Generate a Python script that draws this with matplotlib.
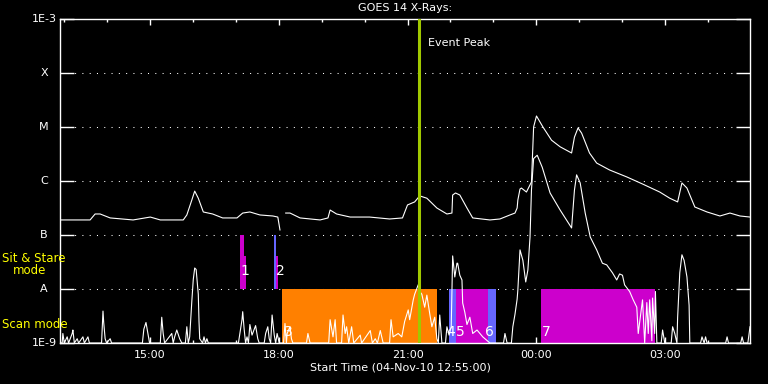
import numpy as np
import matplotlib
matplotlib.use("Agg")
import matplotlib.pyplot as plt
from matplotlib.ticker import FixedLocator, NullLocator


# Time axis: minutes after the start time (04-Nov-10 12:55:00)
start_label = "Start Time (04-Nov-10 12:55:00)"

# GOES long channel (1-8 A), W/m^2 (nan = data gap)
long_t = [0, 42, 49, 56, 70, 102, 126, 140, 172, 177, 184, 188, 193, 200, 213,
          227, 247, 255, 265, 279, 297, 304, 307, 309, 315, 321, 335, 363, 374,
          377, 386, 405, 432, 460, 478, 485, 495, 502, 512, 526, 540, 547, 548,
          552, 558, 568, 576, 600, 614, 628, 635, 638, 639, 642, 644, 651, 658,
          661, 665, 674, 686, 698, 714, 718, 723, 728, 739, 749, 767, 791, 813,
          837, 851, 862, 868, 875, 886, 903, 921, 935, 949, 963]
long_flux = [1.9e-7, 1.9e-7, 2.45e-7, 2.45e-7, 2.07e-7, 1.9e-7, 2.15e-7, 1.9e-7,
             1.9e-7, 2.35e-7, 4.45e-7, 6.5e-7, 4.8e-7, 2.67e-7, 2.45e-7, 2.07e-7,
             2.07e-7, 2.55e-7, 2.67e-7, 2.35e-7, 2.25e-7, 2.15e-7, 1.24e-7, np.nan,
             2.55e-7, 2.55e-7, 2.07e-7, 1.9e-7, 2.07e-7, 2.9e-7, 2.45e-7, 2.15e-7,
             2.15e-7, 1.98e-7, 2.07e-7, 3.6e-7, 4.1e-7, 5.3e-7, 4.8e-7, 3.16e-7,
             2.45e-7, 2.55e-7, 5.5e-7, 6.0e-7, 5.5e-7, 3.16e-7, 2.07e-7, 1.9e-7,
             1.98e-7, 2.35e-7, 2.55e-7, 3.16e-7, 4.45e-7, 7.1e-7, 7.4e-7, 6.25e-7,
             9.6e-7, 1.0e-5, 1.6e-5, 1.0e-5, 5.7e-6, 4.3e-6, 3.3e-6, 6.5e-6, 9.6e-6,
             7.7e-6, 3.3e-6, 2.15e-6, 1.6e-6, 1.19e-6, 8.8e-7, 6.25e-7, 4.8e-7,
             4.1e-7, 9.2e-7, 7.4e-7, 3.3e-7, 2.67e-7, 2.25e-7, 2.55e-7, 2.25e-7,
             2.15e-7]

# GOES short channel (0.5-4 A), W/m^2
short_t = [0, 3, 4, 6, 10, 12, 17, 18, 20, 24, 26, 32, 34, 39, 41, 58, 60, 61, 63,
           65, 70, 72, 115, 117, 120, 123, 125, 140, 142, 144, 146, 156, 158, 160,
           163, 167, 170, 175, 177, 179, 181, 184, 186, 188, 190, 193, 194, 195,
           199, 201, 203, 205, 207, 249, 251, 254, 255, 257, 259, 261, 263, 265,
           268, 271, 273, 276, 278, 285, 287, 290, 292, 294, 296, 299, 301, 303,
           306, 312, 314, 316, 317, 321, 323, 325, 344, 346, 349, 375, 377, 381,
           384, 386, 393, 395, 398, 400, 403, 407, 410, 419, 421, 433, 436, 440,
           443, 447, 451, 460, 462, 465, 472, 477, 481, 486, 488, 493, 495, 500,
           502, 505, 509, 512, 516, 519, 523, 526, 528, 530, 533, 538, 540, 543,
           546, 548, 551, 554, 555, 558, 561, 562, 565, 568, 572, 576, 582, 590,
           600, 619, 621, 624, 630, 632, 635, 638, 639, 642, 646, 650, 653, 656,
           658, 661, 666, 673, 684, 698, 714, 718, 721, 726, 733, 740, 749, 757,
           763, 771, 777, 781, 785, 788, 795, 800, 805, 807, 813, 816, 819, 821,
           823, 826, 827, 830, 831, 833, 839, 841, 844, 853, 855, 858, 861, 862,
           865, 868, 871, 875, 878, 879, 894, 896, 899, 901, 903, 929, 931, 933,
           950, 952, 954, 960, 963]
short_flux = [1e-9, 1e-9, 1.5e-9, 1e-9, 1.3e-9, 1e-9, 1.5e-9, 1.74e-9, 1e-9, 1.2e-9,
              1e-9, 1.3e-9, 1e-9, 1.3e-9, 1e-9, 1e-9, 3.9e-9, 2.4e-9, 1.2e-9, 1e-9,
              1.2e-9, 1e-9, 1e-9, 1.8e-9, 2.4e-9, 1.4e-9, 1e-9, 1e-9, 3.0e-9, 1.5e-9,
              1e-9, 1.5e-9, 1e-9, 1.3e-9, 1.74e-9, 1.2e-9, 1e-9, 1e-9, 2.0e-9, 1e-9,
              1.3e-9, 6e-9, 1.5e-8, 2.45e-8, 2.3e-8, 8e-9, 2.5e-9, 1.2e-9, 1e-9,
              1.3e-9, 1e-9, 1.2e-9, 1e-9, 1e-9, 1.5e-9, 2.7e-9, 3.8e-9, 1.8e-9, 1e-9,
              1.3e-9, 1e-9, 2.2e-9, 1.4e-9, 1.8e-9, 2.1e-9, 1.2e-9, 1e-9, 1e-9,
              1.5e-9, 2.0e-9, 1.2e-9, 1e-9, 3.3e-9, 1.4e-9, 1e-9, 1.5e-9, 1e-9, 1e-9,
              2.3e-9, 1e-9, 1.5e-9, 2.0e-9, 1.2e-9, 1e-9, 1e-9, 1.5e-9, 1e-9, 1e-9,
              2.7e-9, 1.3e-9, 2.7e-9, 1e-9, 1e-9, 3.3e-9, 1.5e-9, 2.0e-9, 1e-9,
              2.0e-9, 1e-9, 1.4e-9, 1e-9, 1.7e-9, 1e-9, 1.2e-9, 1e-9, 1.7e-9, 1e-9,
              1e-9, 2.7e-9, 1.3e-9, 1.5e-9, 1.3e-9, 2.5e-9, 4.1e-9, 2.7e-9, 6.3e-9,
              8.0e-9, 1.2e-8, 9e-9, 8e-9, 4.6e-9, 7.7e-9, 3.5e-9, 2.0e-9, 3.0e-9,
              1.2e-9, 1e-9, 3.3e-9, 1e-9, 1e-9, 2.0e-9, 1.4e-9, 2e-9, 4.1e-8,
              1.67e-8, 3.0e-8, 3.0e-8, 1.8e-8, 1.47e-8, 5.5e-9, 3.7e-9, 2.2e-9,
              3.0e-9, 1.5e-9, 1.74e-9, 1.3e-9, 1e-9, 1e-9, 1.5e-9, 1e-9, 1e-9,
              2.0e-9, 3.4e-9, 6.5e-9, 9.6e-9, 5.3e-8, 3.4e-8, 1.35e-8, 2.25e-8,
              9.2e-8, 6.8e-7, 2.6e-6, 3.0e-6, 1.8e-6, 6e-7, 2.9e-7, 1.35e-7, 6.8e-7,
              1.3e-6, 9.2e-7, 2.55e-7, 9.2e-8, 5.3e-8, 3.0e-8, 2.8e-8, 2.0e-8,
              1.47e-8, 1.9e-8, 1.8e-8, 1.19e-8, 9e-9, 6.3e-9, 4.6e-9, 1.5e-9, 6.3e-9,
              1e-9, 5.6e-9, 1.5e-9, 6.3e-9, 1.1e-9, 6.8e-9, 1.5e-9, 9e-9, 1e-9, 1e-9,
              1.74e-9, 1e-9, 1e-9, 2.0e-9, 1.5e-9, 1e-9, 3e-9, 2.0e-8, 4.3e-8,
              3.4e-8, 1.67e-8, 5e-9, 1e-9, 1e-9, 1.3e-9, 1e-9, 1.3e-9, 1e-9, 1e-9,
              1.3e-9, 1e-9, 1e-9, 1.3e-9, 1e-9, 1e-9, 2.0e-9]

# Observation blocks: (start, end) minutes, flux top/bottom, colour
block_start = [251, 257, 299, 302, 310, 543, 553, 598, 671]
block_end = [257, 260, 302, 304, 526, 553, 598, 608, 831]
block_top = [1e-7, 4.1e-8, 1e-7, 4.1e-8, 1e-8, 1e-8, 1e-8, 1e-8, 1e-8]
block_bottom = [1e-8, 1e-8, 1e-8, 1e-8, 1e-9, 1e-9, 1e-9, 1e-9, 1e-9]
block_color = ["#cc00cc", "#cc00cc", "#6666ff", "#cc00cc", "#ff8000",
               "#6666ff", "#cc00cc", "#6666ff", "#cc00cc"]

# Block number labels
label_text = ["1", "2", "3", "4", "5", "6", "7"]
label_t = [252, 302, 313, 539, 553, 593, 673]
label_y = [2.15e-8, 2.15e-8, 1.6e-9, 1.6e-9, 1.6e-9, 1.6e-9, 1.6e-9]

# Flare class levels
class_levels = [1e-9, 1e-8, 1e-7, 1e-6, 1e-5, 1e-4, 1e-3]
class_labels = ["1E-9", "A", "B", "C", "M", "X", "1E-3"]

# Time ticks
tick_minutes = [125, 305, 485, 665, 845]
tick_labels = ["15:00", "18:00", "21:00", "00:00", "03:00"]
minor_minutes = [5 + 60 * k for k in range(17)]

event_peak = 501

fig = plt.figure(figsize=(7.68, 3.84), dpi=100, facecolor="black")
ax = fig.add_axes([60 / 768, 41 / 384, 690 / 768, 324 / 384], facecolor="black")
ax.set_yscale("log")
ax.set_xlim(0, 963)
ax.set_ylim(1e-9, 1e-3)

# Dotted class grid lines
for lev in class_levels[1:-1]:
    ax.axhline(lev, color="white", lw=0.75, dashes=(1, 6), zorder=1)

# Observation blocks
for s, e, top, bot, c in zip(block_start, block_end, block_top, block_bottom, block_color):
    ax.fill_between([s, e], bot, top, color=c, lw=0, zorder=2)

# X-ray curves
ax.plot(long_t, long_flux, color="white", lw=0.8, zorder=3)
ax.plot(short_t, short_flux, color="white", lw=0.8, zorder=3)

# Event peak marker
ax.axvline(event_peak, color="#a0c800", lw=2.2, zorder=4)
ax.text(513, 3.6e-4, "Event Peak", color="white", fontsize=8, va="center", zorder=5)

for txt, t, y in zip(label_text, label_t, label_y):
    ax.text(t, y, txt, color="white", fontsize=10, va="center", ha="left", zorder=5)

# Axes styling
for sp in ax.spines.values():
    sp.set_color("white")
    sp.set_linewidth(1)

ax.xaxis.set_major_locator(FixedLocator(tick_minutes))
ax.xaxis.set_minor_locator(FixedLocator(minor_minutes))
ax.set_xticklabels(tick_labels)
ax.tick_params(axis="x", which="major", direction="in", length=4.5, width=1,
               colors="white", top=True, bottom=True, labelsize=8, pad=5)
ax.tick_params(axis="x", which="minor", direction="in", length=2.2, width=1,
               color="white", top=True, bottom=True)

ax.yaxis.set_major_locator(FixedLocator(class_levels))
ax.yaxis.set_minor_locator(NullLocator())
ax.tick_params(axis="y", which="major", direction="in", length=10, width=1,
               color="white", left=True, right=True, labelleft=False)

# Class labels on the left
trans = ax.get_yaxis_transform()
for lev, lab in zip(class_levels, class_labels):
    if lab.startswith("1E"):
        ax.text(-0.005, lev, lab, transform=trans, color="white", fontsize=8,
                ha="right", va="center")
    else:
        ax.text(-0.023, lev, lab, transform=trans, color="white", fontsize=8,
                ha="center", va="center")

# Mode labels
fig.text(2 / 768, 1 - 259 / 384, "Sit & Stare", color="yellow", fontsize=8.5, va="center")
fig.text(13 / 768, 1 - 271 / 384, "mode", color="yellow", fontsize=8.5, va="center")
fig.text(2 / 768, 1 - 324 / 384, "Scan mode", color="yellow", fontsize=8.5, va="center")

fig.text(405 / 768, 1 - 8 / 384, "GOES 14 X-Rays:", color="white", fontsize=8,
         ha="center", va="center")
fig.text(400 / 768, 1 - 368 / 384, start_label, color="white", fontsize=8,
         ha="center", va="center")

fig.savefig("out.png", dpi=100, facecolor="black")
